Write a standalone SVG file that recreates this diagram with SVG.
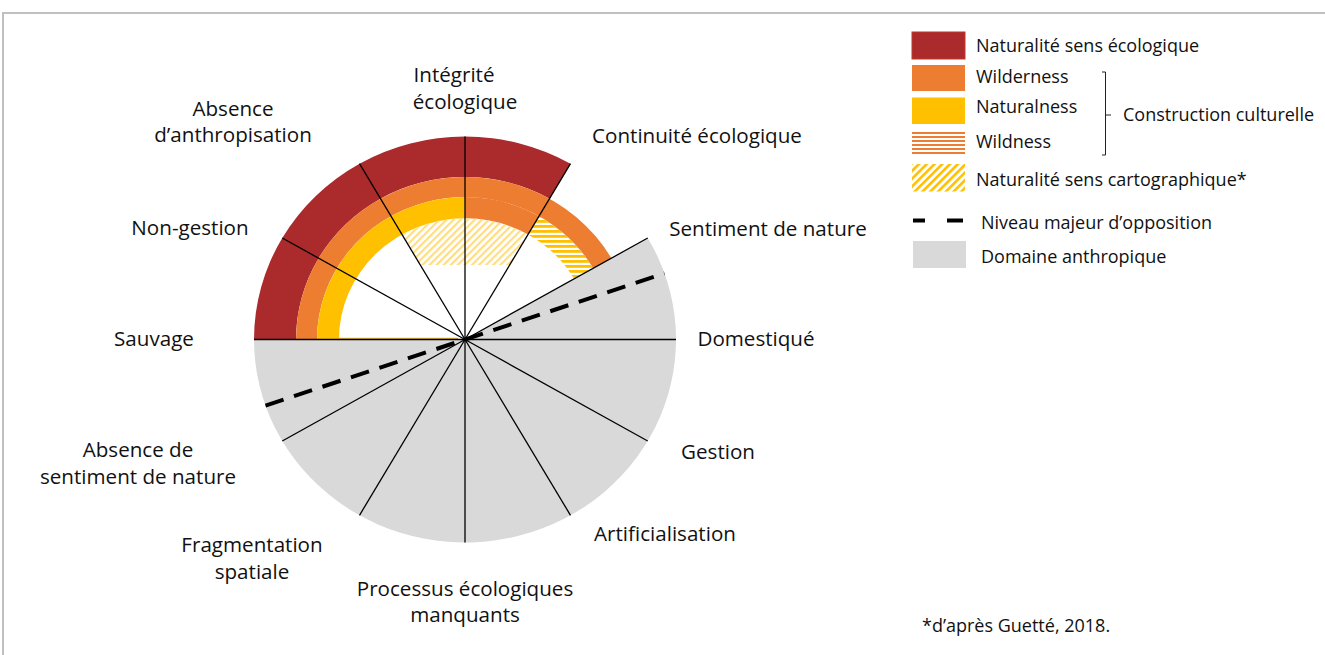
<svg xmlns="http://www.w3.org/2000/svg" width="1325" height="655" viewBox="0 0 1325 655">
<style>
  .lbl { font-family: "Open Sans", "Liberation Sans", sans-serif; font-size: 20.6px; fill: #111; text-anchor: middle; }
  .leg { font-family: "Open Sans", "Liberation Sans", sans-serif; font-size: 18px; fill: #111; }
  .spoke { stroke: #000; stroke-width: 1.3; fill: none; }
  .dash { stroke: #000; stroke-width: 4; fill: none; stroke-dasharray: 19 11; }
  .frame { stroke: #C0C0C0; stroke-width: 2; fill: none; }
</style>
<defs>
  <pattern id="hatchCarto" patternUnits="userSpaceOnUse" width="5" height="5" patternTransform="rotate(45)">
    <rect x="0" y="0" width="2.2" height="5" fill="#FFDD80"/>
  </pattern>
  <pattern id="hatchCartoLeg" patternUnits="userSpaceOnUse" width="5.5" height="5.5" patternTransform="rotate(45)">
    <rect x="0" y="0" width="2.6" height="5.5" fill="#FFC000"/>
  </pattern>
  <pattern id="hatchWild" patternUnits="userSpaceOnUse" width="5" height="5">
    <rect x="0" y="0" width="5" height="2.8" fill="#FFC000"/>
  </pattern>
  <pattern id="hatchWildLeg" patternUnits="userSpaceOnUse" width="4" height="4">
    <rect x="0" y="0" width="4" height="2" fill="#ED7D31"/>
  </pattern>
</defs>
<rect x="0" y="0" width="1325" height="655" fill="#fff"/>
<path class="frame" d="M3,655 L3,13 L1325,13"/>

<g id="chart">
  <g id="domaine-anthropique">
    <path d="M465,339.5 L647.73,238 A211,203 0 1 1 254,339.5 Z" fill="#D9D9D9"/>
  </g>
  <g id="naturalite-ecologique">
    <path d="M254,339.5 A211,203 0 0 1 570.5,163.7 L549.5,198.7 A169,162.6 0 0 0 296,339.5 Z" fill="#AB2A2C"/>
  </g>
  <g id="wilderness">
    <path d="M296,339.5 A169,162.6 0 0 1 611.36,258.2 L593.17,268.3 A148,142.4 0 0 0 317,339.5 Z" fill="#ED7D31"/>
    <path d="M465,197.1 A148,142.4 0 0 1 539,216.2 L528,234.5 A126,121.2 0 0 0 465,218.3 Z" fill="#ED7D31"/>
  </g>
  <g id="naturalness">
    <path d="M317,339.5 A148,142.4 0 0 1 465,197.1 L465,218.3 A126,121.2 0 0 0 339,339.5 Z" fill="#FFC000"/>
    <line x1="339" y1="338.3" x2="458" y2="338.3" stroke="#E5A800" stroke-width="1"/>
  </g>
  <g id="wildness">
    <path d="M539,216.2 A148,142.4 0 0 1 593.17,268.3 L574.12,278.9 A126,121.2 0 0 0 528,234.5 Z" fill="url(#hatchWild)"/>
  </g>
  <g id="naturalite-cartographique">
    <path d="M402,234.5 A126,121.2 0 0 1 528,234.5 L509.7,265 L420.3,265 Z" fill="url(#hatchCarto)"/>
  </g>
</g>

<g id="connectors">
  <line class="spoke" x1="254" y1="339.5" x2="676" y2="339.5"/>
  <line class="spoke" x1="465" y1="339.5" x2="647.73" y2="238"/>
  <line class="spoke" x1="465" y1="339.5" x2="570.5" y2="163.7"/>
  <line class="spoke" x1="465" y1="339.5" x2="465" y2="136.5"/>
  <line class="spoke" x1="465" y1="339.5" x2="359.5" y2="163.7"/>
  <line class="spoke" x1="465" y1="339.5" x2="282.27" y2="238"/>
  <line class="spoke" x1="465" y1="339.5" x2="282.27" y2="441"/>
  <line class="spoke" x1="465" y1="339.5" x2="359.5" y2="515.3"/>
  <line class="spoke" x1="465" y1="339.5" x2="465" y2="542.5"/>
  <line class="spoke" x1="465" y1="339.5" x2="570.5" y2="515.3"/>
  <line class="spoke" x1="465" y1="339.5" x2="647.73" y2="441"/>
  <line class="dash" x1="265.5" y1="405.6" x2="664.5" y2="273.4"/>
</g>

<g id="labels">
  <g id="lbl-integrite"><text class="lbl" x="454" y="82">Intégrité</text><text class="lbl" x="465" y="109">écologique</text></g>
  <g id="lbl-continuite"><text class="lbl" x="697" y="143">Continuité écologique</text></g>
  <g id="lbl-sentiment"><text class="lbl" x="768" y="236">Sentiment de nature</text></g>
  <g id="lbl-domestique"><text class="lbl" x="756" y="346">Domestiqué</text></g>
  <g id="lbl-gestion"><text class="lbl" x="718" y="459">Gestion</text></g>
  <g id="lbl-artificialisation"><text class="lbl" x="665" y="541">Artificialisation</text></g>
  <g id="lbl-processus"><text class="lbl" x="465" y="596">Processus écologiques</text><text class="lbl" x="465" y="622">manquants</text></g>
  <g id="lbl-fragmentation"><text class="lbl" x="252" y="552">Fragmentation</text><text class="lbl" x="252" y="579">spatiale</text></g>
  <g id="lbl-absence-sentiment"><text class="lbl" x="138" y="457">Absence de</text><text class="lbl" x="138" y="484">sentiment de nature</text></g>
  <g id="lbl-sauvage"><text class="lbl" x="154" y="346">Sauvage</text></g>
  <g id="lbl-non-gestion"><text class="lbl" x="190" y="235">Non-gestion</text></g>
  <g id="lbl-absence-anthropisation"><text class="lbl" x="233" y="116">Absence</text><text class="lbl" x="233" y="142">d’anthropisation</text></g>
</g>

<g id="legend">
  <g id="leg-naturalite-ecologique">
    <rect x="912" y="32" width="53" height="27" fill="#AB2A2C" stroke="#C0392B" stroke-width="1"/>
    <text class="leg" x="976" y="52">Naturalité sens écologique</text>
  </g>
  <g id="leg-wilderness">
    <rect x="912" y="65" width="53" height="26" fill="#ED7D31"/>
    <text class="leg" x="976" y="83">Wilderness</text>
  </g>
  <g id="leg-naturalness">
    <rect x="912" y="97.5" width="53" height="26.5" fill="#FFC000"/>
    <text class="leg" x="976" y="113">Naturalness</text>
  </g>
  <g id="leg-wildness">
    <rect x="912" y="131" width="53" height="24" fill="url(#hatchWildLeg)"/>
    <text class="leg" x="976" y="148">Wildness</text>
  </g>
  <g id="leg-construction">
    <path d="M1102,72 L1105.5,72 L1105.5,155 L1102,155 M1105.5,115 L1111,115" stroke="#222" stroke-width="1" fill="none"/>
    <text class="leg" x="1123" y="121">Construction culturelle</text>
  </g>
  <g id="leg-cartographique">
    <rect x="912" y="164" width="53" height="27.5" fill="url(#hatchCartoLeg)"/>
    <text class="leg" x="976" y="186">Naturalité sens cartographique*</text>
  </g>
  <g id="leg-opposition">
    <line x1="913" y1="220.5" x2="925" y2="220.5" stroke="#000" stroke-width="4"/>
    <line x1="947" y1="220.5" x2="963" y2="220.5" stroke="#000" stroke-width="4"/>
    <text class="leg" x="981" y="229">Niveau majeur d’opposition</text>
  </g>
  <g id="leg-anthropique">
    <rect x="913" y="241" width="53" height="27" fill="#D9D9D9"/>
    <text class="leg" x="981" y="263">Domaine anthropique</text>
  </g>
  <g id="footnote">
    <text class="leg" x="922" y="632">*d’après Guetté, 2018.</text>
  </g>
</g>
</svg>
